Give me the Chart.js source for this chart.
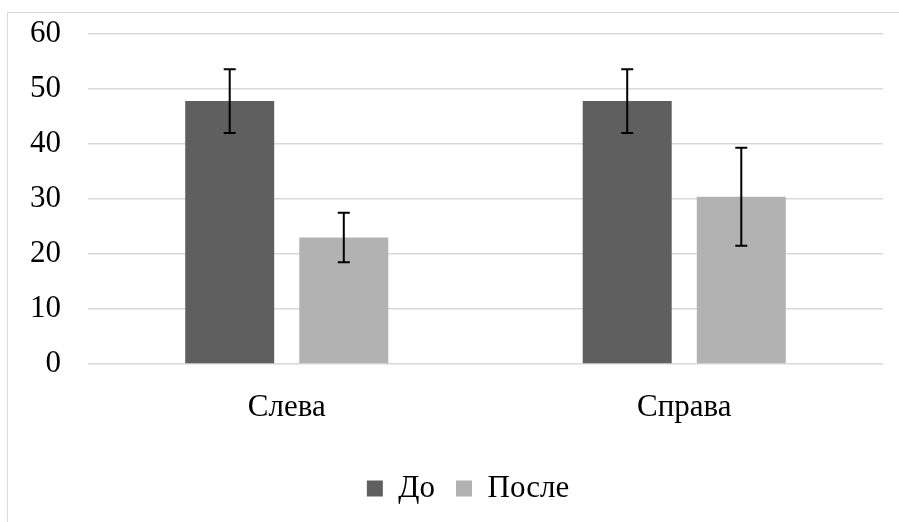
<!DOCTYPE html>
<html>
<head>
<meta charset="utf-8">
<script src="https://cdn.jsdelivr.net/npm/chart.js@4"></script>
<style>
  html, body { margin: 0; padding: 0; background: #fff; overflow: hidden; }
  .frame { position: absolute; left: 7px; top: 12px; width: 1000px; height: 700px; border: 1px solid #d9d9d9; }
  canvas { position: absolute; left: 0; top: 0; }
</style>
</head>
<body>
<div class="frame"></div>
<canvas id="chart" width="899" height="522"></canvas>
<script>
const categories = ["Слева", "Справа"];
const beforeValues = [47.8, 47.8];
const afterValues = [23.0, 30.4];
const beforeErr = [5.8, 5.8];
const afterErr = [4.5, 8.9];
const yTicks = [0, 10, 20, 30, 40, 50, 60];

const font = "'Liberation Serif', 'Times New Roman', serif";

// draws the black whiskers on top of each bar
const errorBars = {
  id: "errorBars",
  afterDatasetsDraw(chart) {
    const ctx = chart.ctx;
    const y = chart.scales.y;
    ctx.save();
    ctx.strokeStyle = "#000";
    ctx.lineWidth = 2;
    chart.data.datasets.forEach((ds, i) => {
      const meta = chart.getDatasetMeta(i);
      meta.data.forEach((bar, j) => {
        const v = ds.data[j], e = ds.errors[j];
        const top = y.getPixelForValue(v + e);
        const bottom = y.getPixelForValue(v - e);
        ctx.beginPath();
        ctx.moveTo(bar.x, top);
        ctx.lineTo(bar.x, bottom);
        ctx.moveTo(bar.x - 6, top);
        ctx.lineTo(bar.x + 6, top);
        ctx.moveTo(bar.x - 6, bottom);
        ctx.lineTo(bar.x + 6, bottom);
        ctx.stroke();
      });
    });
    ctx.restore();
  }
};

// the original chart is wider than the crop, so its legend sits right of centre
const legendShift = {
  id: "legendShift",
  afterLayout(chart) {
    chart.legend.left += 14;
    chart.legend.right += 14;
  }
};

new Chart(document.getElementById("chart"), {
  type: "bar",
  data: {
    labels: categories,
    datasets: [
      { label: "До", data: beforeValues, errors: beforeErr, backgroundColor: "#5f5f5f" },
      { label: "После", data: afterValues, errors: afterErr, backgroundColor: "#b2b2b2" }
    ]
  },
  options: {
    responsive: false,
    animation: false,
    categoryPercentage: 0.574,
    barPercentage: 0.78,
    layout: { padding: { left: 25, right: 16, top: 34, bottom: 8 } },
    plugins: {
      tooltip: { enabled: false },
      legend: {
        position: "bottom",
        labels: {
          font: { family: font, size: 31 },
          color: "#000",
          boxWidth: 16,
          boxHeight: 16,
          padding: 21
        }
      }
    },
    scales: {
      x: {
        grid: { display: false, drawTicks: false },
        border: { display: false },
        ticks: { font: { family: font, size: 31 }, color: "#000", padding: 25 },
        afterFit(scale) { scale.height = 88; scale.paddingLeft = 0; scale.paddingRight = 0; }
      },
      y: {
        min: 0,
        max: 60,
        afterBuildTicks(scale) { scale.ticks = yTicks.map(v => ({ value: v })); },
        grid: { color: "#d9d9d9", lineWidth: 1.5, drawTicks: false },
        border: { display: false },
        ticks: { font: { family: font, size: 31 }, color: "#000", padding: 27 },
        afterFit(scale) { scale.width = 63; scale.paddingTop = 0; scale.paddingBottom = 0; }
      }
    }
  },
  plugins: [errorBars, legendShift]
});
</script>
</body>
</html>
